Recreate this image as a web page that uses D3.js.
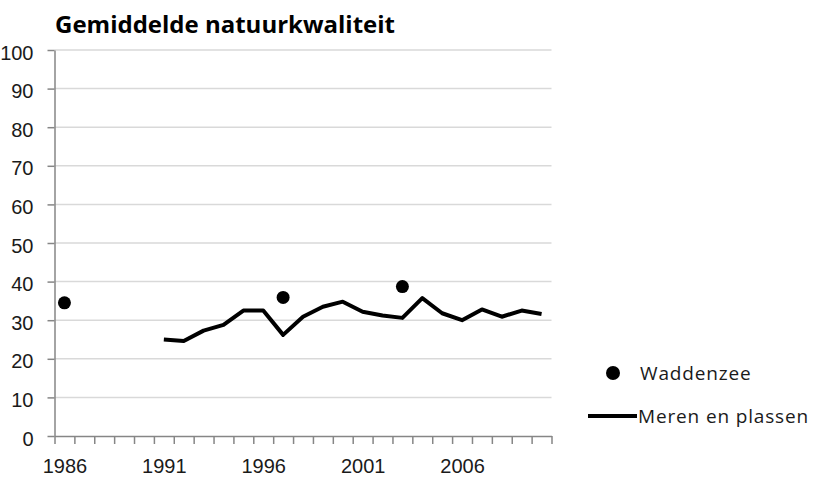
<!DOCTYPE html>
<html>
<head>
<meta charset="utf-8">
<script src="https://cdn.jsdelivr.net/npm/d3@7"></script>
<style>
  body { margin: 0; background: #fff; }
  svg { display: block; font-family: "Open Sans", sans-serif; }
  .grid line { stroke: #d9d9d9; stroke-width: 1.5; }
  .axis path, .axis line { stroke: #868686; stroke-width: 1.5; }
  .axis text { font-size: 20px; fill: #1a1a1a; }
</style>
</head>
<body>
<div id="chart"></div>
<script>
// Categories (years) on the x axis
const years = d3.range(1986, 2011);
const yearLabels = [1986, 1991, 1996, 2001, 2006];
const yTicks = [0, 10, 20, 30, 40, 50, 60, 70, 80, 90, 100];

// Waddenzee: single measurements
const waddenYears = [1986, 1997, 2003];
const waddenValues = [34.5, 35.9, 38.7];

// Meren en plassen: yearly series
const merenYears = d3.range(1991, 2011);
const merenValues = [25.0, 24.6, 27.3, 28.8, 32.5, 32.5, 26.2, 30.9, 33.5, 34.8,
                     32.2, 31.2, 30.6, 35.7, 31.8, 30.0, 32.8, 30.9, 32.5, 31.6];

const width = 814, height = 477;

const svg = d3.select("#chart")
  .append("svg")
  .attr("width", width)
  .attr("height", height);

// Scales: each year is a category slot
const x = d3.scaleLinear()
  .domain([years[0] - 0.5, years[years.length - 1] + 0.5])
  .range([54.5, 551.5]);

const y = d3.scaleLinear()
  .domain([0, 100])
  .range([436, 50]);

// Gridlines
svg.append("g")
  .attr("class", "grid")
  .selectAll("line")
  .data(yTicks.filter(d => d > 0))
  .enter()
  .append("line")
  .attr("x1", x.range()[0])
  .attr("x2", x.range()[1])
  .attr("y1", d => y(d))
  .attr("y2", d => y(d));

// Y axis
const yAxisGroup = svg.append("g")
  .attr("class", "axis")
  .attr("transform", `translate(${x.range()[0]},0)`)
  .call(d3.axisLeft(y).tickValues(yTicks).tickSize(7).tickPadding(14).tickSizeOuter(0));
yAxisGroup.selectAll(".tick text").attr("dy", "0.45em");

// X axis: tick marks at category boundaries
const boundaries = d3.range(years.length + 1).map(i => years[0] - 0.5 + i);
svg.append("g")
  .attr("class", "axis")
  .attr("transform", `translate(0,${y(0)})`)
  .call(d3.axisBottom(x).tickValues(boundaries).tickFormat("").tickSize(8).tickSizeOuter(0));

// X axis labels centred in their category
const xLabelGroup = svg.append("g")
  .attr("class", "axis")
  .attr("transform", `translate(0,${y(0)})`)
  .call(d3.axisBottom(x).tickValues(yearLabels).tickFormat(d3.format("d")).tickSize(0).tickPadding(23));
xLabelGroup.select(".domain").remove();

// Meren en plassen line
const line = d3.line()
  .x((d, i) => x(merenYears[i]))
  .y(d => y(d));

svg.append("path")
  .datum(merenValues)
  .attr("fill", "none")
  .attr("stroke", "#000")
  .attr("stroke-width", 4)
  .attr("stroke-linejoin", "round")
  .attr("d", line);

// Waddenzee points
svg.append("g")
  .selectAll("circle")
  .data(waddenValues)
  .enter()
  .append("circle")
  .attr("cx", (d, i) => x(waddenYears[i]))
  .attr("cy", d => y(d))
  .attr("r", 6.5)
  .attr("fill", "#000");

// Title
svg.append("text")
  .attr("x", 55)
  .attr("y", 33)
  .attr("font-size", "24px")
  .attr("font-weight", "bold")
  .attr("fill", "#000")
  .text("Gemiddelde natuurkwaliteit");

// Legend
const legend = svg.append("g")
  .attr("font-size", "19px")
  .attr("letter-spacing", "0.85px")
  .attr("fill", "#1a1a1a");
legend.append("circle")
  .attr("cx", 613)
  .attr("cy", 373)
  .attr("r", 7)
  .attr("fill", "#000");
legend.append("text")
  .attr("x", 640)
  .attr("y", 380)
  .text("Waddenzee");
legend.append("line")
  .attr("x1", 588)
  .attr("x2", 637)
  .attr("y1", 416)
  .attr("y2", 416)
  .attr("stroke", "#000")
  .attr("stroke-width", 4);
legend.append("text")
  .attr("x", 638)
  .attr("y", 423)
  .text("Meren en plassen");
</script>
</body>
</html>
